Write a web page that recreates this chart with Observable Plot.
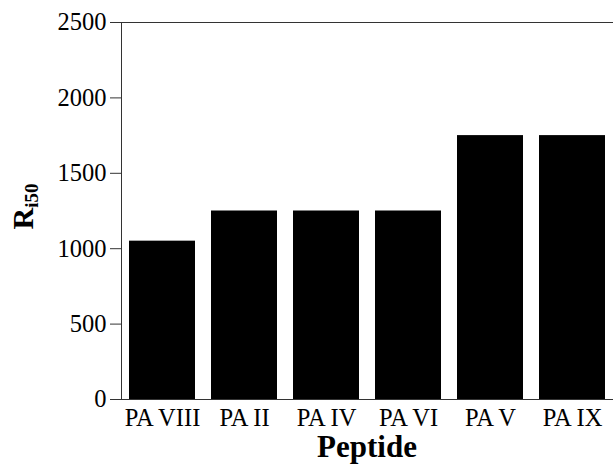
<!DOCTYPE html>
<html>
<head>
<meta charset="utf-8">
<script src="https://cdn.jsdelivr.net/npm/d3@7"></script>
<script src="https://cdn.jsdelivr.net/npm/@observablehq/plot@0.6"></script>
<style>
  html, body { margin: 0; padding: 0; background: #fff; }
  #chart svg { display: block; }
</style>
</head>
<body>
<div id="chart"></div>
<script>
const peptides = ["PA VIII", "PA II", "PA IV", "PA VI", "PA V", "PA IX"];
const ri50 = [1050, 1250, 1250, 1250, 1750, 1750];
const yTicks = [0, 500, 1000, 1500, 2000, 2500];
const xTitle = "Peptide";
const yTitleMain = "R";
const yTitleSub = "i50";

const data = peptides.map((p, i) => ({peptide: p, value: ri50[i]}));
const W = 613, H = 464;
const mL = 121, mR = 0, mT = 22, mB = 65;
const serif = "'Liberation Serif', 'Times New Roman', serif";

const chart = Plot.plot({
  width: W,
  height: H,
  marginLeft: mL,
  marginRight: mR,
  marginTop: mT,
  marginBottom: mB,
  style: {fontFamily: serif, fontSize: "24.5px", color: "#000", background: "#fff"},
  x: {domain: peptides, paddingInner: 0.19, paddingOuter: 0.095, label: null},
  y: {domain: [0, 2500], label: null},
  marks: [
    Plot.barY(data, {x: "peptide", y: "value", fill: "#000"}),
    Plot.frame({anchor: "left", stroke: "#333"}),
    Plot.frame({anchor: "top", stroke: "#333"}),
    Plot.ruleY([0], {stroke: "#333"}),
    Plot.axisY({ticks: yTicks, tickFormat: "d", tickSize: 11, tickPadding: 4, label: null, stroke: "#333"}),
    Plot.axisX({tickSize: 0, tickPadding: 9, label: null})
  ]
});
document.getElementById("chart").appendChild(chart);

const svg = d3.select(chart);
svg.selectAll("text").attr("fill", "#000");
const cx = mL + (W - mL - mR) / 2;
svg.append("text")
  .attr("x", cx).attr("y", H - 7)
  .attr("text-anchor", "middle")
  .attr("font-family", serif)
  .attr("font-weight", "bold")
  .attr("font-size", 31)
  .attr("fill", "#000")
  .text(xTitle);

const yl = svg.append("text")
  .attr("transform", `translate(33,${(mT + (H - mB)) / 2 - 4}) rotate(-90)`)
  .attr("text-anchor", "middle")
  .attr("font-family", serif)
  .attr("font-weight", "bold")
  .attr("font-size", 30)
  .attr("fill", "#000");
yl.append("tspan").text(yTitleMain);
yl.append("tspan").attr("font-size", 19).attr("dy", 5).text(yTitleSub);
</script>
</body>
</html>
